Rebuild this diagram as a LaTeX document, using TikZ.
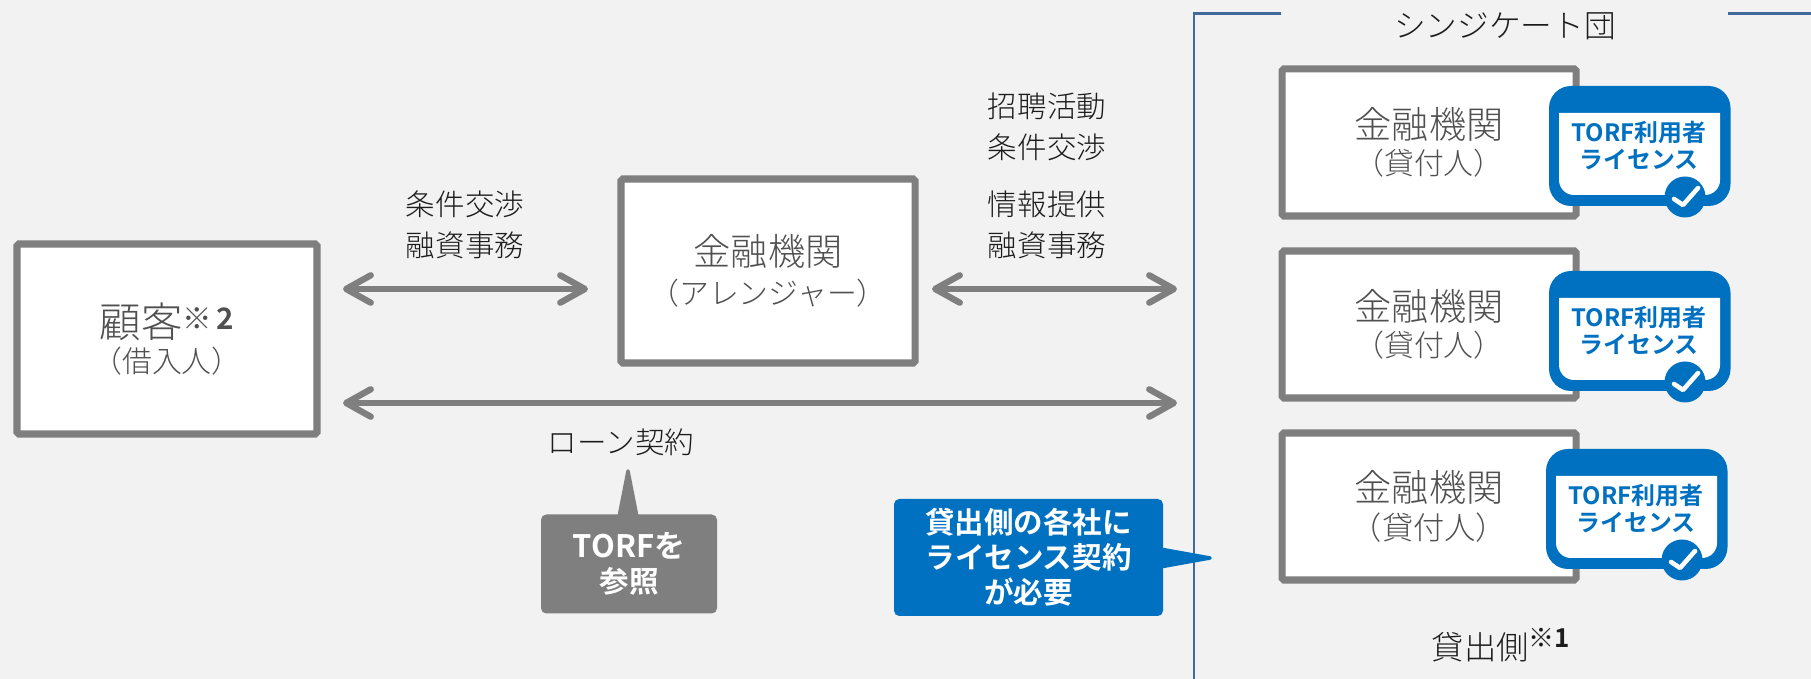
\documentclass[tikz,border=0pt]{standalone}
\usepackage{fontspec}
\setmainfont{Noto Sans CJK JP}[UprightFont=* Light,BoldFont=* Bold]
\usepackage[HTML]{xcolor}
\usetikzlibrary{positioning, arrows, arrows.meta}

\definecolor{bggray}{HTML}{F2F2F2}
\definecolor{linegray}{HTML}{7F7F7F}
\definecolor{textgray}{HTML}{505050}
\definecolor{textdark}{HTML}{1C1C1C}
\definecolor{licblue}{HTML}{0070C0}
\definecolor{framblue}{HTML}{44699B}

\tikzset{
  party/.style={draw=linegray, fill=white, line width=2pt, rounded corners=0.5pt,
    inner sep=0pt, align=center, text=textgray},
  flow/.style={draw=linegray, line width=1.8pt, {Straight Barb[length=7pt,width=7.8pt,round]}-{Straight Barb[length=7pt,width=7.8pt,round]}},
  lbl/.style={text=textdark, font=\fontsize{8.4}{9.6}\selectfont, align=center, inner sep=0pt},
  note/.style={rounded corners=1.5pt, inner sep=0pt, align=center, text=white, font=\fontsize{8.4}{10}\selectfont\bfseries},
  badge/.style={fill=licblue, rounded corners=0.22cm, minimum width=1.815cm, minimum height=1.2cm, inner sep=0pt},
  badgetxt/.style={text=licblue, inner sep=0pt, font=\fontsize{6.8}{7}\selectfont\bfseries}
}
\newcommand{\mainsize}{\fontsize{10.6}{11.4}\selectfont}
\newcommand{\subsize}{\fontsize{8.5}{9}\selectfont}

\begin{document}
\begin{tikzpicture}
\fill[bggray] (0,0) rectangle (18.11,6.79);
\useasboundingbox (0,0) rectangle (18.11,6.79);

% syndicate frame
\coordinate (FA) at (12.81,6.655);
\coordinate (FB) at (11.94,0);
\coordinate (FC) at (17.28,6.655);
\coordinate (FD) at (18.11,6.655);
\draw[framblue, line width=0.75pt] (FA) -| (FB);
\draw[framblue, line width=0.75pt] (FC) -- (FD);
\node[lbl, font=\fontsize{9}{10}\selectfont] (S) at (15.05,6.53) {シンジケート団};

% parties
\node[party, minimum width=3.00cm, minimum height=1.90cm] (C) at (1.67,3.40)
  {{\fontsize{11.8}{12}\selectfont 顧客}\raisebox{0.4ex}{\fontsize{8.4}{7}\selectfont ※\bfseries\,2}\\[-1.9pt]{\subsize （借入人）}};
\node[party, minimum width=2.94cm, minimum height=1.84cm] (A) at (7.68,4.08)
  {{\mainsize 金融機関}\\[-1pt]{\subsize （アレンジャー）}};
\foreach \i/\y/\s/\g in {1/5.365/8.5/-1.6pt, 2/3.545/8.5/-1.6pt, 3/1.725/8.9/-1.2pt}
  \node[party, minimum width=2.94cm, minimum height=1.47cm] (K\i) at (14.29,\y)
    {{\mainsize 金融機関}\\[\g]{\fontsize{\s}{9}\selectfont （貸付人）}};

% licence badges
\foreach \i/\dx/\dy in {1/0/0, 2/0/-1.85, 3/-0.03/-3.63}{
  \begin{scope}[shift={(\dx,\dy)}]
    \node[badge] (B\i) at (16.3975,5.33) {};
    \fill[white] (15.59,5.66) -- (17.20,5.66) [rounded corners=0.15cm] -- (17.20,4.84) -- (15.59,4.84) [sharp corners] -- cycle;
    \node[badgetxt] (BA\i) at (16.39,5.47) {TORF利用者};
    \node[badgetxt] (BB\i) at (16.39,5.19) {ライセンス};
    \node[circle, fill=licblue, minimum size=0.41cm, inner sep=0pt] (CK\i) at (16.85,4.82) {};
    \draw[white, line width=1.3pt, line cap=round, line join=round]
      (16.74,4.80) -- (16.83,4.74) -- (16.98,4.91);
  \end{scope}
}

% flows
\coordinate (P1) at (3.43,3.90);
\coordinate (P2) at (5.88,3.90);
\coordinate (P3) at (9.32,3.90);
\coordinate (P4) at (11.77,3.90);
\coordinate (P5) at (3.43,2.76);
\coordinate (P6) at (11.77,2.76);
\draw[flow] (P1) -- (P2);
\draw[flow] (P3) -- (P4);
\draw[flow] (P5) -- (P6);

% labels
\node[lbl] (T1) at (4.65,4.54) {条件交渉\\[2pt]融資事務};
\node[lbl] (T2) at (10.47,5.52) {招聘活動\\[2pt]条件交渉};
\node[lbl] (T3) at (10.47,4.54) {情報提供\\[2pt]融資事務};
\node[lbl] (T4) at (6.21,2.37) {ローン契約};
\node[lbl, font=\fontsize{9.2}{10}\selectfont] (T5) at (15.01,0.34) {貸出側\raisebox{0.7ex}{\fontsize{7.4}{7}\selectfont ※\bfseries 1}};

% notes
\node[note, fill=linegray, minimum width=1.76cm, minimum height=0.99cm] (N1) at (6.29,1.15) {{\fontsize{8.8}{10}\selectfont TORFを}\\参照};
\filldraw[linegray, line width=1pt, line join=round] (6.19,1.62) -- (6.28,2.08) -- (6.37,1.62) -- cycle;
\node[note, fill=licblue, minimum width=2.69cm, minimum height=1.17cm] (N2) at (10.285,1.215) {貸出側の各社に\\ライセンス契約\\が必要};
\filldraw[licblue, line width=1pt, line join=round] (11.60,1.30) -- (12.10,1.21) -- (11.60,1.12) -- cycle;
\end{tikzpicture}
\end{document}
